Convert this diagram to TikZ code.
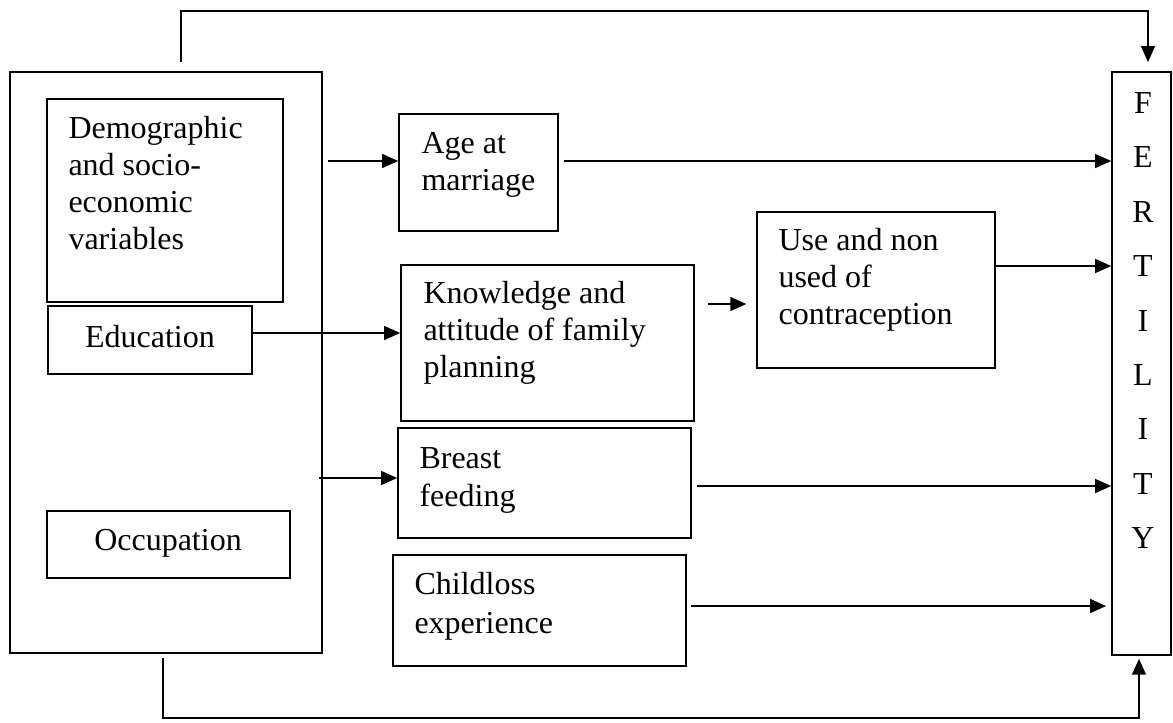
\documentclass[tikz,border=0pt]{standalone}
\usepackage{fontspec}
\setmainfont{Liberation Serif}
\usetikzlibrary{arrows.meta,fit}
\begin{document}
\begin{tikzpicture}[x=0.375pt,y=-0.375pt,
  box/.style={draw, line width=0.6pt, inner sep=0pt},
  lbl/.style={inner sep=0pt, anchor=north west, align=left, font=\fontsize{12}{13.9}\selectfont},
  ctr/.style={inner sep=0pt, anchor=center, font=\fontsize{12}{13.9}\selectfont},
  arr/.style={line width=0.65pt, -{Triangle[length=6pt,width=5.2pt]}}]
\useasboundingbox (0,0) rectangle (1173,722);

% boxes
\node[box, fit={(10,72) (322,653)}] (outer) {};
\node[box, fit={(47,99) (283,302)}] (demo) {};
\node[box, fit={(48,306) (252,374)}] (edu) {};
\node[box, fit={(47,511) (290,578)}] (occ) {};
\node[box, fit={(399,114) (558,231)}] (age) {};
\node[box, fit={(401,265) (694,421)}] (know) {};
\node[box, fit={(757,212) (995,368)}] (use) {};
\node[box, fit={(398,428) (691,538)}] (breast) {};
\node[box, fit={(393,555) (686,666)}] (child) {};
\node[box, fit={(1112,72) (1171,655)}] (fert) {};

% texts
\node[lbl] (demotxt) at (68,112) {\strut Demographic\\and socio-\\economic\\variables};
\node[ctr] (edutxt) at (150,337) {Education};
\node[ctr] (occtxt) at (168,543) {Occupation};
\node[lbl] (agetxt) at (421,127) {\strut Age at\\marriage};
\node[lbl] (knowtxt) at (423,277) {\strut Knowledge and\\attitude of family\\planning};
\node[lbl] (usetxt) at (778,224) {\strut Use and non\\used of\\contraception};
\node[lbl, font=\fontsize{12}{14.3}\selectfont] (breasttxt) at (419,441) {\strut Breast\\feeding};
\node[lbl, font=\fontsize{12}{14.6}\selectfont] (childtxt) at (414,567) {\strut Childloss\\experience};
\node[inner sep=0pt, anchor=north, align=center, font=\fontsize{12}{20.4}\selectfont] (ferttxt) at (1143,92) {F\\E\\R\\T\\I\\L\\I\\T\\Y};

% helper coordinates
\coordinate (xTop) at (181,0);
\coordinate (xTopR) at (1148,0);
\coordinate (yTop) at (0,11);
\coordinate (xBot) at (163,0);
\coordinate (xBotR) at (1139,0);
\coordinate (yBot) at (0,718);
\coordinate (yAge) at (0,161);
\coordinate (yEdu) at (0,333);
\coordinate (yKU) at (0,304);
\coordinate (yUse) at (0,266);
\coordinate (yBin) at (0,478);
\coordinate (yBout) at (0,486);
\coordinate (yC) at (0,606);

% connectors
\draw[arr, shorten <=3.4pt, shorten >=3.4pt] (outer.north -| xTop) |- (yTop -| xTopR) -- (fert.north -| xTopR);
\draw[arr, shorten <=1.9pt] (outer.east |- yAge) -- (age.west |- yAge);
\draw[arr, shorten <=1.9pt] (age.east |- yAge) -- (fert.west |- yAge);
\draw[arr] (edu.east |- yEdu) -- (know.west |- yEdu);
\draw[arr, shorten <=4.9pt, shorten >=3.7pt] (know.east |- yKU) -- (use.west |- yKU);
\draw[arr] (use.east |- yUse) -- (fert.west |- yUse);
\draw[arr, shorten <=-1.5pt] (outer.east |- yBin) -- (breast.west |- yBin);
\draw[arr, shorten <=1.9pt] (breast.east |- yBout) -- (fert.west |- yBout);
\draw[arr, shorten <=1.5pt, shorten >=1.9pt] (child.east |- yC) -- (fert.west |- yC);
\draw[arr, shorten <=1.5pt, shorten >=1.1pt] (outer.south -| xBot) |- (yBot -| xBotR) -- (fert.south -| xBotR);
\end{tikzpicture}
\end{document}
